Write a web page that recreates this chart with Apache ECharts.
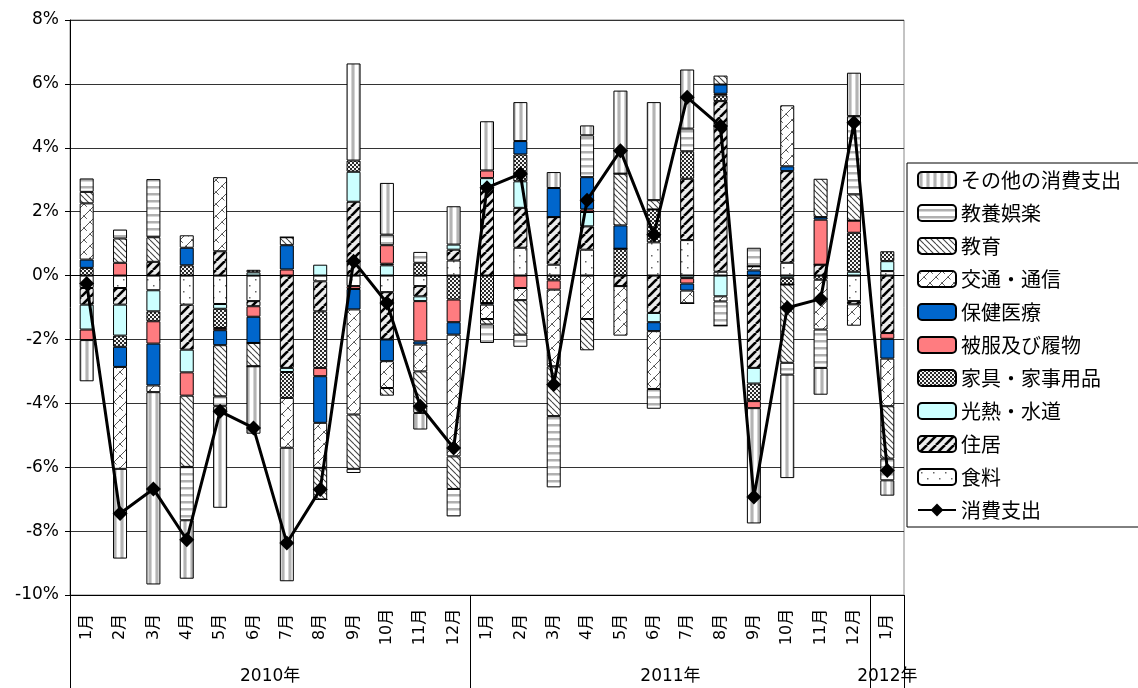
<!DOCTYPE html>
<html>
<head>
<meta charset="utf-8">
<script src="https://cdn.jsdelivr.net/npm/echarts@6/dist/echarts.min.js"></script>
<style>
  html, body { margin: 0; padding: 0; background: #fff; }
  #chart { width: 1138px; height: 688px; }
</style>
</head>
<body>
<div id="chart"></div>
<script>
// Months (2010年1月 – 2012年1月)
const months = ['1月','2月','3月','4月','5月','6月','7月','8月','9月','10月','11月','12月',
                '1月','2月','3月','4月','5月','6月','7月','8月','9月','10月','11月','12月','1月'];
const years = [{ label: '2010年', at: 12 }, { label: '2011年', at: 36 }, { label: '2012年', at: 49 }];
const yearBoundaries = [0, 24, 48, 50];

// Contributions by item (percentage points)
const food      = [-0.39,-0.39,-0.46,-0.91,-0.89,-0.80, 0.00,-0.18,-0.33,-0.52,-0.33, 0.47, 0.00, 0.87, 0.34, 0.81, 0.00, 1.04, 1.11, 0.12,-0.07, 0.40, 0.00,-0.80, 0.14];
const housing   = [-0.52,-0.52, 0.43,-1.41, 0.76,-0.16,-2.89,-0.94, 2.31,-1.48,-0.32, 0.34, 2.80, 1.25, 1.49, 0.73,-0.33,-1.17, 1.92, 5.34,-2.82, 2.87, 0.34,-0.10,-1.80];
const utilities = [-0.78,-0.97,-0.66,-0.71,-0.15, 0.10,-0.13, 0.34, 0.94, 0.32,-0.15, 0.16, 0.25, 0.83, 0.00, 0.45, 0.00,-0.29,-0.08,-0.65,-0.49,-0.07, 0.00, 0.12, 0.31];
const furniture = [ 0.24,-0.35,-0.31, 0.32,-0.60, 0.08,-0.81,-1.77, 0.35, 0.05, 0.40,-0.75,-0.86, 0.84,-0.15, 0.00, 0.84, 1.03, 0.86, 0.18,-0.55,-0.21,-0.13, 1.22, 0.31];
const clothing  = [-0.33, 0.40,-0.70,-0.73,-0.07,-0.33, 0.19,-0.26,-0.09, 0.58,-1.26,-0.71, 0.24,-0.39,-0.29, 0.08, 0.00, 0.00,-0.17, 0.05,-0.22, 0.00, 1.41, 0.38,-0.18];
const medical   = [ 0.26,-0.63,-1.31, 0.55,-0.47,-0.82, 0.76,-1.46,-0.64,-0.68,-0.10,-0.39,-0.05, 0.42, 0.91, 1.01, 0.73,-0.28,-0.22, 0.29, 0.16, 0.15, 0.08, 0.00,-0.62];
const transport = [ 1.76,-3.19,-0.21, 0.39, 2.32, 0.00,-1.56,-1.41,-3.29,-0.84,-0.84,-3.81,-0.45,-0.38,-2.40,-1.36,-1.55,-1.81,-0.40,-0.16, 0.13, 1.91,-1.56,-0.67,-1.49];
const education = [ 0.36, 0.76, 0.77,-2.23,-1.60,-0.73, 0.25,-0.99,-1.70,-0.24,-1.30,-1.02,-0.17,-1.08,-1.56,-0.98, 1.62, 0.29, 0.00, 0.28, 0.00,-2.45, 1.20, 0.82,-1.64];
const recreation= [ 0.42, 0.28, 1.82,-1.67,-0.31, 0.00, 0.00, 0.00,-0.13, 0.33, 0.34,-0.86,-0.58,-0.38,-2.23, 1.31, 0.00,-0.62, 0.71,-0.76, 0.58,-0.37,-1.20, 2.45,-0.68];
const other     = [-1.29,-2.81,-6.02,-1.83,-3.18,-2.11,-4.18, 0.00, 3.04, 1.62,-0.52, 1.20, 1.54, 1.22, 0.50, 0.31, 2.60, 3.07, 1.85, 0.00,-3.61,-3.24,-0.84, 1.36,-0.48];
// Total consumption expenditure (year-on-year, %)
const total     = [-0.25,-7.45,-6.68,-8.27,-4.25,-4.77,-8.37,-6.70, 0.45,-0.86,-4.09,-5.40, 2.75, 3.18,-3.41, 2.36, 3.91, 1.28, 5.58, 4.68,-6.93,-1.01,-0.73, 4.78,-6.10];

// Tile patterns used as bar fills
function tile(w, h, draw) {
  const c = document.createElement('canvas');
  c.width = w; c.height = h;
  const ctx = c.getContext('2d');
  ctx.fillStyle = '#fff';
  ctx.fillRect(0, 0, w, h);
  draw(ctx, w, h);
  return { image: c, repeat: 'repeat' };
}
function diag(ctx, w, h, up) {
  for (let k = -1; k <= 1; k++) {
    ctx.beginPath();
    if (up) { ctx.moveTo(k * w, h); ctx.lineTo(k * w + w, 0); }
    else    { ctx.moveTo(k * w, 0); ctx.lineTo(k * w + w, h); }
    ctx.stroke();
  }
}
const fills = {
  food: tile(12, 12, (ctx) => {
    ctx.fillStyle = '#666';
    ctx.fillRect(3, 3, 1.5, 1.5);
    ctx.fillRect(9, 9, 1.5, 1.5);
  }),
  housing: tile(9, 9, (ctx, w, h) => {
    ctx.fillStyle = '#ececec';
    ctx.fillRect(0, 0, w, h);
    ctx.strokeStyle = '#000';
    ctx.lineWidth = 2.6;
    diag(ctx, w, h, true);
  }),
  utilities: '#CCFFFF',
  furniture: tile(4, 4, (ctx) => {
    ctx.fillStyle = '#2a2a2a';
    ctx.fillRect(0, 0, 4, 4);
    ctx.fillStyle = '#f4f4f4';
    ctx.fillRect(0, 0, 2, 2);
    ctx.fillRect(2, 2, 2, 2);
  }),
  clothing: '#FF7C80',
  medical: '#0066CC',
  transport: tile(12, 12, (ctx, w, h) => {
    ctx.strokeStyle = '#555';
    ctx.lineWidth = 1;
    diag(ctx, w, h, true);
    ctx.setLineDash([4, 4]);
    diag(ctx, w, h, false);
  }),
  education: tile(6, 6, (ctx, w, h) => {
    ctx.strokeStyle = '#444';
    ctx.lineWidth = 1.1;
    diag(ctx, w, h, false);
  }),
  recreation: tile(4, 7, (ctx) => {
    ctx.fillStyle = '#b0b0b0';
    ctx.fillRect(0, 4, 4, 2.5);
  }),
  other: tile(7, 4, (ctx) => {
    ctx.fillStyle = '#d4d4d4';
    ctx.fillRect(1, 0, 1, 4);
    ctx.fillStyle = '#b4b4b4';
    ctx.fillRect(2, 0, 2, 4);
    ctx.fillStyle = '#d4d4d4';
    ctx.fillRect(4, 0, 1, 4);
  })
};

const items = [
  { name: '食料',             data: food,       fill: fills.food },
  { name: '住居',             data: housing,    fill: fills.housing },
  { name: '光熱・水道',       data: utilities,  fill: fills.utilities },
  { name: '家具・家事用品',   data: furniture,  fill: fills.furniture },
  { name: '被服及び履物',     data: clothing,   fill: fills.clothing },
  { name: '保健医療',         data: medical,    fill: fills.medical },
  { name: '交通・通信',       data: transport,  fill: fills.transport },
  { name: '教育',             data: education,  fill: fills.education },
  { name: '教養娯楽',         data: recreation, fill: fills.recreation },
  { name: 'その他の消費支出', data: other,      fill: fills.other }
];
const totalName = '消費支出';

const yearAxisData = new Array(51).fill('');
years.forEach(y => { yearAxisData[y.at] = y.label; });

const FONT = '"Noto Sans CJK JP", "Noto Sans", sans-serif';
const NUM_FONT = '"DejaVu Sans", "Noto Sans CJK JP", sans-serif';

const barSeries = items.map(it => ({
  name: it.name,
  type: 'bar',
  stack: 'items',
  xAxisIndex: 0,
  barWidth: 14,
  data: it.data,
  itemStyle: { color: it.fill, borderColor: '#000', borderWidth: 1 },
  emphasis: { disabled: true }
}));

const lineSeries = {
  name: totalName,
  type: 'line',
  xAxisIndex: 0,
  data: total,
  z: 5,
  symbol: 'diamond',
  symbolSize: 15,
  lineStyle: { color: '#000', width: 3 },
  itemStyle: { color: '#000' },
  emphasis: { disabled: true }
};

const chart = echarts.init(document.getElementById('chart'), null, { renderer: 'canvas' });
chart.setOption({
  animation: false,
  backgroundColor: '#fff',
  textStyle: { fontFamily: FONT },
  grid: {
    left: 70, top: 20, width: 834, height: 575,
    show: true, borderColor: '#888', borderWidth: 1
  },
  legend: {
    orient: 'vertical',
    left: 907, top: 163,
    padding: [7, 30, 7, 10],
    itemWidth: 38, itemHeight: 16, itemGap: 13,
    borderColor: '#000', borderWidth: 1,
    textStyle: { fontSize: 20, color: '#000', fontFamily: FONT, lineHeight: 20 },
    data: items.map(it => it.name).reverse().concat([totalName]),
    selectedMode: false
  },
  xAxis: [
    {
      type: 'category', data: months, position: 'bottom',
      axisLine: { onZero: true, lineStyle: { color: '#000', width: 1 } },
      axisTick: { inside: true, length: 6, lineStyle: { color: '#000' } },
      axisLabel: { show: false },
      splitLine: { show: false }
    },
    {
      type: 'category', data: months, position: 'bottom',
      axisLine: { onZero: false, lineStyle: { color: '#000', width: 1 } },
      axisTick: { length: 58, interval: 0, lineStyle: { color: '#000' } },
      axisLabel: {
        interval: 0, rotate: 90, align: 'center', verticalAlign: 'middle',
        margin: 32, fontSize: 16, color: '#000', fontFamily: NUM_FONT
      },
      splitLine: { show: false }
    },
    {
      type: 'category', data: yearAxisData, position: 'bottom', boundaryGap: false,
      axisLine: { show: false, onZero: false },
      axisTick: {
        length: 93, lineStyle: { color: '#000' },
        interval: (i) => yearBoundaries.indexOf(i) >= 0
      },
      axisLabel: {
        interval: (i, v) => v !== '', margin: 73,
        fontSize: 17, color: '#000', fontFamily: NUM_FONT
      },
      splitLine: { show: false }
    }
  ],
  yAxis: {
    type: 'value', min: -10, max: 8, interval: 2,
    axisLine: { show: true, lineStyle: { color: '#000' } },
    axisTick: { show: true, length: 5, lineStyle: { color: '#000' } },
    axisLabel: { formatter: v => v + '%', fontSize: 17, color: '#000', margin: 11, fontFamily: NUM_FONT },
    splitLine: { lineStyle: { color: '#333', width: 1 } }
  },
  series: barSeries.concat([lineSeries])
});
</script>
</body>
</html>
